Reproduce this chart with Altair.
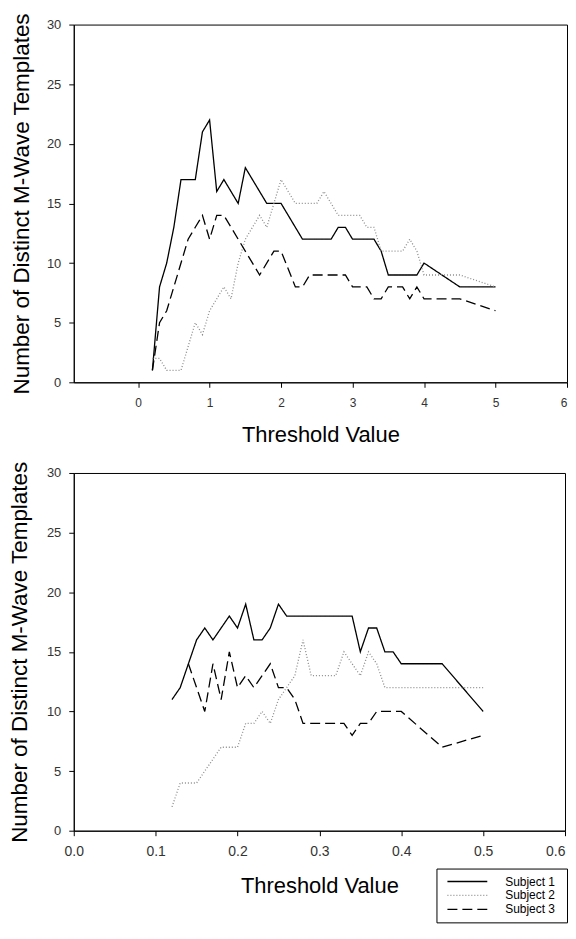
import altair as alt
import pandas as pd

SUBJECTS = ["Subject 1", "Subject 2", "Subject 3"]

# ---- top panel (threshold 0-5) ----
top_s1_x = [0.2, 0.3, 0.4, 0.5, 0.6, 0.8, 0.9, 1.0, 1.1, 1.2, 1.4, 1.5, 1.8, 2.0, 2.3, 2.7, 2.8, 2.9, 3.0, 3.3, 3.4, 3.5, 3.9, 4.0, 4.5, 5.0]
top_s1_y = [1, 8, 10, 13, 17, 17, 21, 22, 16, 17, 15, 18, 15, 15, 12, 12, 13, 13, 12, 12, 11, 9, 9, 10, 8, 8]

top_s2_x = [0.2, 0.3, 0.4, 0.5, 0.6, 0.7, 0.8, 0.9, 1.0, 1.1, 1.2, 1.3, 1.4, 1.5, 1.6, 1.7, 1.8, 1.9, 2.0, 2.2, 2.5, 2.6, 2.8, 3.1, 3.2, 3.3, 3.4, 3.7, 3.8, 3.9, 4.0, 4.5, 5.0]
top_s2_y = [2, 2, 1, 1, 1, 3, 5, 4, 6, 7, 8, 7, 10, 12, 13, 14, 13, 15, 17, 15, 15, 16, 14, 14, 13, 13, 11, 11, 12, 11, 9, 9, 8]

top_s3_x = [0.2, 0.3, 0.4, 0.5, 0.6, 0.7, 0.8, 0.9, 1.0, 1.1, 1.2, 1.7, 1.9, 2.0, 2.2, 2.3, 2.4, 2.9, 3.0, 3.2, 3.3, 3.4, 3.5, 3.7, 3.8, 3.9, 4.0, 4.5, 5.0]
top_s3_y = [1, 5, 6, 8, 10, 12, 13, 14, 12, 14, 14, 9, 11, 11, 8, 8, 9, 9, 8, 8, 7, 7, 8, 8, 7, 8, 7, 7, 6]

# ---- bottom panel (threshold 0-0.5) ----
bot_s1_x = [0.12, 0.13, 0.14, 0.15, 0.16, 0.17, 0.18, 0.19, 0.20, 0.21, 0.22, 0.23, 0.24, 0.25, 0.26, 0.34, 0.35, 0.36, 0.37, 0.38, 0.39, 0.40, 0.45, 0.50]
bot_s1_y = [11, 12, 14, 16, 17, 16, 17, 18, 17, 19, 16, 16, 17, 19, 18, 18, 15, 17, 17, 15, 15, 14, 14, 10]

bot_s2_x = [0.12, 0.13, 0.14, 0.15, 0.16, 0.17, 0.18, 0.19, 0.20, 0.21, 0.22, 0.23, 0.24, 0.25, 0.26, 0.27, 0.28, 0.29, 0.32, 0.33, 0.34, 0.35, 0.36, 0.37, 0.38, 0.50]
bot_s2_y = [2, 4, 4, 4, 5, 6, 7, 7, 7, 9, 9, 10, 9, 11, 12, 13, 16, 13, 13, 15, 14, 13, 15, 14, 12, 12]

bot_s3_x = [0.14, 0.15, 0.16, 0.17, 0.18, 0.19, 0.20, 0.21, 0.22, 0.23, 0.24, 0.25, 0.26, 0.27, 0.28, 0.33, 0.34, 0.35, 0.36, 0.37, 0.40, 0.45, 0.50]
bot_s3_y = [14, 12, 10, 14, 11, 15, 12, 13, 12, 13, 14, 12, 12, 11, 9, 9, 8, 9, 9, 10, 10, 7, 8]

TOP_X_TICKS = [0, 1, 2, 3, 4, 5, 6]
BOT_X_TICKS = [0.0, 0.1, 0.2, 0.3, 0.4, 0.5, 0.6]
Y_TICKS = [0, 5, 10, 15, 20, 25, 30]

X_TITLE = "Threshold Value"
Y_TITLE = "Number of Distinct M-Wave Templates"
FONT = "Liberation Sans"


def long_df(series):
    rows = []
    for name, xs, ys in series:
        for x, y in zip(xs, ys):
            rows.append({"threshold": x, "templates": y, "subject": name})
    return pd.DataFrame(rows)


top_df = long_df([(SUBJECTS[0], top_s1_x, top_s1_y),
                  (SUBJECTS[1], top_s2_x, top_s2_y),
                  (SUBJECTS[2], top_s3_x, top_s3_y)])
bot_df = long_df([(SUBJECTS[0], bot_s1_x, bot_s1_y),
                  (SUBJECTS[1], bot_s2_x, bot_s2_y),
                  (SUBJECTS[2], bot_s3_x, bot_s3_y)])

dash_scale = alt.Scale(domain=SUBJECTS, range=[[1, 0], [1, 2], [10, 5]])
color_scale = alt.Scale(domain=SUBJECTS, range=["#000000", "#8c8c8c", "#000000"])

legend = alt.Legend(
    title="\u00a0", titleOrient="right", titlePadding=6, titleFontSize=6,
    orient="none", legendX=364, legendY=397,
    direction="vertical", symbolType="stroke", symbolSize=1600,
    symbolStrokeWidth=1.3, clipHeight=14, rowPadding=0, padding=6,
    symbolOffset=4, labelOffset=17, labelFont=FONT, labelFontSize=12,
    labelColor="#000000", strokeColor="#000000", fillColor="#ffffff",
)


def axis_common(**kw):
    base = dict(domainColor="#000000", tickColor="#000000", tickSize=5,
                labelFont=FONT, labelColor="#333333", titleFont=FONT,
                titleFontWeight="normal", titleColor="#000000",
                grid=False, labelFlush=False)
    base.update(kw)
    return alt.Axis(**base)


def panel(df, xdomain, xticks, xfmt, xlabel_size, x_lp, x_tp, y_tp, width, show_legend):
    enc_legend = legend if show_legend else None
    last = xticks[-1] * 0.99
    return alt.Chart(df).mark_line(strokeWidth=1.3).encode(
        x=alt.X("threshold:Q",
                scale=alt.Scale(domain=xdomain, nice=False, zero=False),
                axis=axis_common(values=xticks, format=xfmt, title=X_TITLE,
                                 labelFontSize=xlabel_size, labelPadding=x_lp,
                                 titlePadding=x_tp, titleFontSize=22,
                                 labelAlign={"condition": {"test": f"datum.value >= {last}", "value": "right"},
                                             "value": "center"})),
        y=alt.Y("templates:Q",
                scale=alt.Scale(domain=[0, 30], nice=False),
                axis=axis_common(values=Y_TICKS, format="d", title=Y_TITLE,
                                 labelFontSize=13, labelPadding=8,
                                 titlePadding=y_tp, titleFontSize=22.5)),
        strokeDash=alt.StrokeDash("subject:N", scale=dash_scale, legend=enc_legend),
        color=alt.Color("subject:N", scale=color_scale, legend=enc_legend),
    ).properties(width=width, height=359)


top = panel(top_df, [-0.9, 6], TOP_X_TICKS, "d", 12, 10, 16, 13, 495, False)
bottom = panel(bot_df, [0, 0.6], BOT_X_TICKS, ".1f", 14, 9, 17, 15, 493, True)

chart = alt.vconcat(top, bottom, spacing=14).resolve_scale(
    color="independent", strokeDash="independent"
).resolve_legend(
    color="independent", strokeDash="independent"
).properties(
    padding={"left": 0, "top": 2, "right": 0, "bottom": 0}
).configure_view(stroke="#000000", strokeWidth=1)

chart.save("out.html", embed_options={"renderer": "svg", "actions": False})
